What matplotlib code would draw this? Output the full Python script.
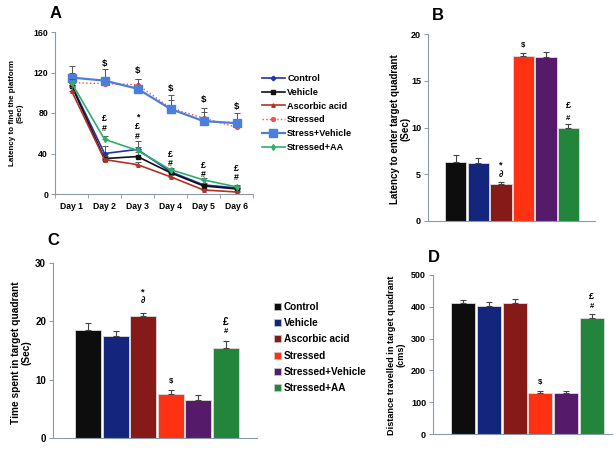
import numpy as np
import matplotlib
matplotlib.use("Agg")
import matplotlib.pyplot as plt
from matplotlib.patches import Patch

W, H = 615, 449

# panel A data
days = ["Day 1", "Day 2", "Day 3", "Day 4", "Day 5", "Day 6"]
line_names = ["Control", "Vehicle", "Ascorbic acid", "Stressed", "Stress+Vehicle", "Stressed+AA"]
control = [108, 40, 44, 22, 9, 6]
vehicle = [107, 35, 37, 21, 8, 5]
ascorbic = [102, 34, 29, 17, 4, 2]
stressed = [110, 109, 108, 85, 75, 66]
stress_vehicle = [115, 112, 104, 84, 72, 70]
stressed_aa = [110, 54, 43, 24, 14, 7]
control_err = [8, 7, 8, 3, 2, 2]
vehicle_err = [5, 3, 4, 2, 2, 1]
ascorbic_err = [4, 2, 3, 2, 1, 1]
stressed_err = [10, 6, 6, 8, 6, 5]
stress_vehicle_err = [11, 11, 10, 14, 13, 10]
stressed_aa_err = [4, 3, 3, 2, 2, 2]
marks_a = {1: ["#", "£"], 2: ["#", "£", "*"], 3: ["#", "£"], 4: ["#", "£"], 5: ["#", "£"]}
dollar_a = [None, 129, 122, 104, 93, 86]
mark_base_a = [None, 65, 57, 30, 19, 16]

# bar panels
groups = ["Control", "Vehicle", "Ascorbic acid", "Stressed", "Stressed+Vehicle", "Stressed+AA"]
bar_colors = ["#0d0d0d", "#14257d", "#861a18", "#ff3113", "#561a6b", "#23843c"]
latency_quad = [6.3, 6.2, 4.0, 17.6, 17.5, 10.0]
latency_quad_err = [0.8, 0.5, 0.2, 0.4, 0.6, 0.4]
time_quad = [18.5, 17.5, 21.0, 7.5, 6.5, 15.5]
time_quad_err = [1.3, 0.9, 0.5, 0.8, 0.8, 1.2]
dist_quad = [412, 402, 412, 130, 128, 365]
dist_quad_err = [8, 12, 14, 4, 7, 12]


def rect(l, t, r, b):
    return [l / W, 1 - b / H, (r - l) / W, (b - t) / H]


plt.rcParams["font.family"] = ["Liberation Sans", "DejaVu Sans"]
fig = plt.figure(figsize=(W / 100, H / 100), dpi=100)
axis_col = "#8899aa"


def style(ax, fs=6.3):
    for s in ["top", "right"]:
        ax.spines[s].set_visible(False)
    for s in ["left", "bottom"]:
        ax.spines[s].set_color(axis_col)
        ax.spines[s].set_linewidth(0.8)
    ax.tick_params(axis="y", length=3, width=0.7, color=axis_col, labelsize=fs, pad=2)
    for lab in ax.get_yticklabels():
        lab.set_fontweight("bold")


def ylab(xc, yc, text, fs):
    fig.text(xc / W, 1 - yc / H, text, rotation=90, ha="center", va="center",
             multialignment="center", fontsize=fs, fontweight="bold", linespacing=1.05)


# ---------- A ----------
axA = fig.add_axes(rect(55, 32, 253, 194))
x = np.arange(1, 7)
specs = [
    (control, control_err, dict(color="#2233aa", marker="D", ms=2.3, lw=1.2)),
    (vehicle, vehicle_err, dict(color="#111111", marker="s", ms=2.3, lw=1.2)),
    (ascorbic, ascorbic_err, dict(color="#b33225", marker="^", ms=2.5, lw=1.2)),
    (stressed, stressed_err, dict(color="#ff4a4a", marker="o", ms=2.8, lw=1.0, ls=":")),
    (stress_vehicle, stress_vehicle_err, dict(color="#4a7fdc", marker="s", ms=5.5, lw=1.6)),
    (stressed_aa, stressed_aa_err, dict(color="#2fae6a", marker="d", ms=3, lw=1.2)),
]
handles = []
for (vals, err, kw), name in zip(specs, line_names):
    axA.errorbar(x, vals, yerr=[np.zeros(6), err], fmt="none", ecolor="#555555",
                 elinewidth=0.7, capsize=2.3, capthick=0.7)
    ln, = axA.plot(x, vals, label=name, **kw)
    handles.append(ln)
axA.set_xlim(0.5, 6.5)
axA.set_ylim(0, 160)
axA.set_yticks([0, 40, 80, 120, 160])
axA.set_xticks(x)
axA.set_xticklabels(days, fontsize=6.2, fontweight="bold")
axA.set_xticks(np.arange(0.5, 7, 1), minor=True)
axA.tick_params(axis="x", which="major", length=0, pad=6)
axA.tick_params(axis="x", which="minor", length=3, color=axis_col)
style(axA)
ylab(16, 113, "Latency to find the platform\n(Sec)", 5.8)
for i in range(1, 6):
    axA.text(x[i], dollar_a[i], "$", ha="center", va="center", fontsize=6.8, fontweight="bold")
    y0 = mark_base_a[i]
    for k, m in enumerate(marks_a[i]):
        axA.text(x[i], y0 + k * 9.5, m, ha="center", va="center", fontsize=6.3, fontweight="bold")
axA.legend(handles=handles, loc="upper left", bbox_to_anchor=(262 / W, 1 - 74 / H),
           bbox_transform=fig.transFigure, frameon=False, handlelength=2.5,
           handletextpad=0.25, labelspacing=0.52, borderpad=0, borderaxespad=0,
           prop={"size": 6.6, "weight": "bold"})
fig.text(50 / W, 1 - 13 / H, "A", fontsize=12, fontweight="bold", va="center")


def bar_panel(box, vals, err, ylim, yticks, xlim, fs=6.5):
    ax = fig.add_axes(rect(*box))
    pos = np.arange(len(vals))
    ax.bar(pos, vals, width=0.94, color=bar_colors, edgecolor="#dddddd", linewidth=0.6)
    ax.errorbar(pos, vals, yerr=[np.zeros(len(vals)), err], fmt="none", ecolor="#444444",
                elinewidth=0.8, capsize=2.3, capthick=0.8)
    ax.set_xlim(*xlim)
    ax.set_ylim(*ylim)
    ax.set_yticks(yticks)
    ax.set_xticks([])
    style(ax, fs)
    return ax


# ---------- B ----------
axB = bar_panel((428, 34, 595, 221), latency_quad, latency_quad_err, (0, 20), [0, 5, 10, 15, 20],
                (-1.24, 6.18))
ylab(400, 129, "Latency to enter target quadrant\n(Sec)", 7)
axB.text(2, 5.0, "∂", ha="center", va="center", fontsize=6.5, fontweight="bold")
axB.text(2, 6.0, "*", ha="center", va="center", fontsize=6.5, fontweight="bold")
axB.text(3, 18.8, "$", ha="center", va="center", fontsize=5.5, fontweight="bold")
axB.text(5, 11.0, "#", ha="center", va="center", fontsize=5.5, fontweight="bold")
axB.text(5, 12.4, "£", ha="center", va="center", fontsize=6.5, fontweight="bold")
fig.text(432 / W, 1 - 16 / H, "B", fontsize=12, fontweight="bold", va="center")

# ---------- C ----------
axC = bar_panel((53, 263, 257, 438), time_quad, time_quad_err, (0, 30), [0, 10, 20, 30],
                (-1.27, 6.13), fs=7)
ylab(21, 353, "Time spent in target quadrant\n(Sec)", 7.3)
axC.text(2, 23.5, "∂", ha="center", va="center", fontsize=6.5, fontweight="bold")
axC.text(2, 25.0, "*", ha="center", va="center", fontsize=6.5, fontweight="bold")
axC.text(3, 9.6, "$", ha="center", va="center", fontsize=5.5, fontweight="bold")
axC.text(5, 18.3, "#", ha="center", va="center", fontsize=5.5, fontweight="bold")
axC.text(5, 19.9, "£", ha="center", va="center", fontsize=7.5, fontweight="bold")
fig.text(47 / W, 1 - 240 / H, "C", fontsize=12, fontweight="bold", va="center")

# ---------- D ----------
axD = bar_panel((433, 275, 612, 434), dist_quad, dist_quad_err, (0, 500), [0, 100, 200, 300, 400, 500],
                (-1.18, 5.79))
ylab(396, 355, "Distance travelled in target quadrant\n(cms)", 6.6)
axD.text(3, 162, "$", ha="center", va="center", fontsize=5.5, fontweight="bold")
axD.text(5, 400, "#", ha="center", va="center", fontsize=5.5, fontweight="bold")
axD.text(5, 432, "£", ha="center", va="center", fontsize=6.5, fontweight="bold")
fig.text(428 / W, 1 - 257 / H, "D", fontsize=12, fontweight="bold", va="center")

# shared bar legend
patches = [Patch(facecolor=c, edgecolor="#cccccc", linewidth=0.5, label=g)
           for c, g in zip(bar_colors, groups)]
fig.legend(handles=patches, loc="upper left", bbox_to_anchor=(274 / W, 1 - 302 / H),
           frameon=False, handlelength=0.7, handleheight=0.7, handletextpad=0.3,
           labelspacing=0.62, borderpad=0, borderaxespad=0,
           prop={"size": 7.2, "weight": "bold"})

fig.savefig("out.png", dpi=100)
